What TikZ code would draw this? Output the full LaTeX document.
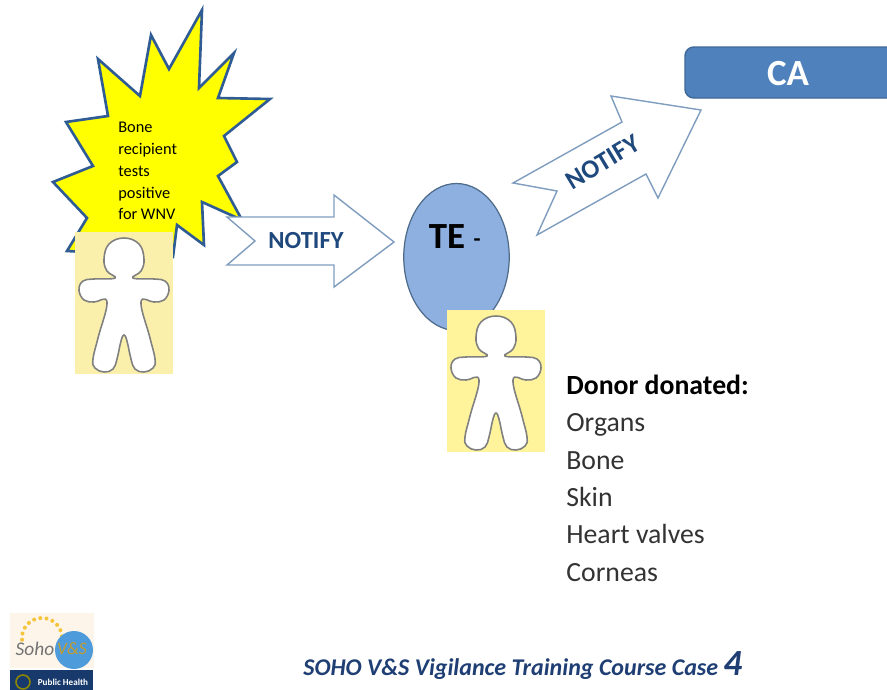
\documentclass[tikz,border=0pt]{standalone}
\usepackage{fontspec}
\setmainfont{Carlito}
\usetikzlibrary{shapes.geometric,calc}
\definecolor{burstblue}{HTML}{2F5C94}
\definecolor{burstfill}{RGB}{255,255,0}
\definecolor{arrowblue}{HTML}{7F9DBF}
\definecolor{notifyblue}{HTML}{1F497D}
\definecolor{tefill}{HTML}{8DB0E1}
\definecolor{teline}{HTML}{4F6B8A}
\definecolor{cafill}{HTML}{4F81BD}
\definecolor{titleblue}{HTML}{1F3F74}
\definecolor{logobar}{HTML}{17396B}
\definecolor{logoglobe}{HTML}{4E9BDC}
\definecolor{logocream}{HTML}{FDF5EA}
\definecolor{logodot}{HTML}{F5C438}
\begin{document}
\begin{tikzpicture}
[x=0.02cm,y=-0.02cm,
every node/.style={inner sep=0pt},
blockarrow/.style={draw=arrowblue,line width=0.8pt,fill=white,line join=miter},
notifytext/.style={text=notifyblue,font=\fontsize{14}{16}\selectfont\bfseries},
listline/.style={anchor=base west,text=black!80,font=\fontsize{15.8}{18}\selectfont}]

\useasboundingbox (0,0) rectangle (887,690);

% burst
\draw[draw=burstblue,line width=1.5pt,fill=burstfill,line join=miter]
(202,10)--(199,88)--(234,53)--(218,98)--(270,99)--(224,136)--(237,162)--(218,176)
--(242,220)--(202,202)--(204,245)--(177,225)--(173,257)--(67,251)--(87,218)--(53,182)
--(93,166)--(66,122)--(108,116)--(98,59)--(140,96)--(151,35)--(169,69)--cycle;
\node[anchor=north west,align=left,font=\fontsize{9.3}{12.4}\selectfont] (burstText) at (118,122)
{Bone\\recipient\\tests\\positive\\for WNV};

% blue shapes
\node[draw=teline,fill=tefill,ellipse,line width=0.7pt,minimum width=2.11cm,minimum height=2.94cm] (te) at (456.5,257) {};
\node[font=\fontsize{21}{24}\selectfont\bfseries] (teLabel) at (447,237) {TE};
\node[font=\fontsize{13}{15}\selectfont\bfseries] (teDash) at (477,243) {-};
\draw[draw=cafill!80!black,fill=cafill,line width=0.8pt,rounded corners=5pt]
(685,47) rectangle (900,98);
\node[text=white,font=\fontsize{21}{24}\selectfont\bfseries] (ca) at (788,74) {CA};

% arrows
\draw[blockarrow] (227,217)--(255,241)--(227,265)--(334,265)--(334,287)--(394,242)--(334,195)--(334,217)--cycle;
\node[notifytext] (notifyA) at (306,241) {NOTIFY};
\draw[blockarrow] (513,183)--(557,191)--(537,235)--(646,174)--(658,198)--(701,110)--(611,96)--(622,122)--cycle;
\node[notifytext,rotate=31,font=\fontsize{15}{17}\selectfont\bfseries] (notifyB) at (603,162) {NOTIFY};

% persons
\foreach \cx/\cy/\bg in {124/303/FAF0AC,496/381/FFF49B}{
	\definecolor{personbg}{HTML}{\bg}
	\fill[personbg] (\cx-49,\cy-71) rectangle (\cx+49,\cy+71);
	\begin{scope}[shift={(\cx,\cy)}]
	\draw[draw=black!50,line width=0.9pt,fill=white] plot[smooth cycle,tension=0.7] coordinates {
		(9,-25)(17,-32)(20,-44)(15,-59)(0,-65)(-15,-59)(-20,-44)(-17,-32)(-9,-25)
		(-30,-24)(-41,-22)(-45,-13)(-40,-3)(-30,-1)(-17,-1)
		(-26,35)(-31,56)(-29,65)(-20,69)(-11,66)(-7,56)(-3,38)(0,32)
		(3,38)(7,56)(11,66)(20,69)(29,65)(31,56)(26,35)
		(17,-1)(30,-1)(40,-3)(45,-13)(41,-22)(30,-24)};
	\end{scope}
}

% donor list
\node[anchor=base west,font=\fontsize{15.8}{18}\selectfont\bfseries] (donor) at (566,394) {Donor donated:};
\foreach \name/\ypos/\txt in {organs/431/Organs,bone/469/Bone,skin/506/Skin,valves/543/Heart valves,corneas/581/Corneas}{
	\node[listline] (\name) at (566,\ypos) {\txt};
}

% footer
\node[anchor=base west,text=titleblue,font=\fontsize{13.66}{16}\selectfont\bfseries\itshape] (footer) at (303,675)
{SOHO V\&S Vigilance Training Course Case};
\node[anchor=base west,text=titleblue,font=\fontsize{21}{24}\selectfont\bfseries\itshape] (caseNo) at (723,675) {4};

% logo
\fill[logocream] (10,613) rectangle (94,668);
\foreach \ang in {-185,-167,...,-5}{
	\fill[logodot] ($(42,638)+(\ang:20)$) circle (2);
}
\fill[logoglobe] (74,650) circle (19);
\node[text=black!55,font=\fontsize{11}{12}\selectfont\itshape] (logoSoho) at (35,649) {Soho};
\node[text=logodot!80!black,font=\fontsize{10}{12}\selectfont\itshape] (logoVS) at (72,649) {V\&S};
\fill[logobar] (10,670) rectangle (93,690);
\draw[olive,line width=0.9pt] (23,682) circle (7);
\node[text=white,font=\fontsize{5.2}{6}\selectfont\bfseries] (logoPh) at (63,682) {Public Health};
\end{tikzpicture}
\end{document}
